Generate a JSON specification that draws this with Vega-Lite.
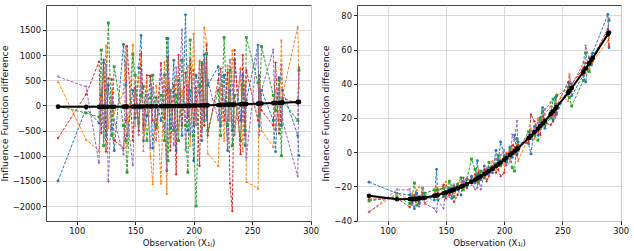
{
"$schema":"https://vega.github.io/schema/vega-lite/v6.json",
"padding":{"left":-2,"top":4,"right":0,"bottom":0},
"spacing":46,
"bounds":"flush",
"datasets":{
"L":[
{"x":84,"b":-1500,"o":470,"g":-20,"r":-650,"p":570,"k":-25.5},
{"x":108,"b":-60,"o":-680,"g":-150,"r":220,"p":370,"k":-27.5},
{"x":119,"b":-350,"o":-900,"g":-230,"r":870,"p":-1150,"k":-27.4},
{"x":121,"b":200,"o":150,"g":1100,"r":-550,"p":300,"k":-27.4},
{"x":123,"b":850,"o":-300,"g":-800,"r":910,"p":-650,"k":-27.3},
{"x":125,"b":-600,"o":1200,"g":300,"r":-920,"p":800,"k":-27.2},
{"x":127,"b":400,"o":-450,"g":1640,"r":540,"p":-1520,"k":-27.0},
{"x":130,"b":-450,"o":300,"g":-600,"r":520,"p":150,"k":-26.8},
{"x":132,"b":-900,"o":-150,"g":770,"r":-700,"p":-300,"k":-26.6},
{"x":140,"b":1210,"o":250,"g":-400,"r":-850,"p":-980,"k":-25.5},
{"x":142,"b":400,"o":1180,"g":-700,"r":-300,"p":850,"k":-25.2},
{"x":143,"b":-600,"o":-800,"g":-1330,"r":1180,"p":-200,"k":-25.0},
{"x":148,"b":300,"o":1210,"g":1020,"r":-700,"p":-1200,"k":-24.0},
{"x":150,"b":-250,"o":-400,"g":600,"r":350,"p":450,"k":-23.6},
{"x":153,"b":750,"o":550,"g":-350,"r":-500,"p":-600,"k":-22.9},
{"x":155,"b":1390,"o":900,"g":200,"r":1030,"p":650,"k":-22.4},
{"x":157,"b":-700,"o":-900,"g":380,"r":-400,"p":-500,"k":-21.9},
{"x":160,"b":-200,"o":500,"g":-700,"r":600,"p":200,"k":-21.1},
{"x":163,"b":580,"o":-1000,"g":150,"r":590,"p":-850,"k":-20.2},
{"x":165,"b":-850,"o":-1560,"g":600,"r":-300,"p":350,"k":-19.6},
{"x":168,"b":150,"o":400,"g":-400,"r":-450,"p":-700,"k":-18.6},
{"x":172,"b":-300,"o":-1550,"g":200,"r":840,"p":700,"k":-17.2},
{"x":175,"b":600,"o":870,"g":-700,"r":-250,"p":-400,"k":-16.1},
{"x":177,"b":-1300,"o":-1750,"g":1330,"r":300,"p":-1300,"k":-15.3},
{"x":178,"b":1330,"o":500,"g":-1100,"r":950,"p":600,"k":-14.9},
{"x":180,"b":-450,"o":-700,"g":300,"r":-900,"p":250,"k":-14.1},
{"x":183,"b":900,"o":350,"g":-500,"r":400,"p":-800,"k":-12.8},
{"x":185,"b":-900,"o":600,"g":200,"r":-1370,"p":750,"k":-11.9},
{"x":187,"b":500,"o":-500,"g":-700,"r":1000,"p":100,"k":-11.0},
{"x":190,"b":-600,"o":300,"g":900,"r":-400,"p":1500,"k":-9.6},
{"x":193,"b":1800,"o":-300,"g":-400,"r":650,"p":-900,"k":-8.1},
{"x":195,"b":-500,"o":800,"g":-1330,"r":-200,"p":400,"k":-7.1},
{"x":197,"b":300,"o":-800,"g":1300,"r":900,"p":-600,"k":-6.1},
{"x":200,"b":-1100,"o":1430,"g":-600,"r":-400,"p":700,"k":-4.5},
{"x":202,"b":600,"o":-300,"g":-2000,"r":350,"p":-400,"k":-3.4},
{"x":205,"b":250,"o":900,"g":400,"r":-1200,"p":860,"k":-1.7},
{"x":207,"b":-700,"o":-400,"g":850,"r":800,"p":-500,"k":-0.6},
{"x":209,"b":1010,"o":1560,"g":-300,"r":-400,"p":900,"k":0.6},
{"x":211,"b":-200,"o":1250,"g":1030,"r":1200,"p":-300,"k":1.8},
{"x":212,"b":400,"o":-950,"g":-500,"r":-600,"p":500,"k":2.4},
{"x":221,"b":770,"o":-1200,"g":300,"r":500,"p":-300,"k":8.2},
{"x":223,"b":-400,"o":400,"g":-600,"r":730,"p":600,"k":9.6},
{"x":226,"b":600,"o":-700,"g":1350,"r":-300,"p":100,"k":11.7},
{"x":229,"b":-900,"o":800,"g":-400,"r":650,"p":-700,"k":13.8},
{"x":231,"b":300,"o":-300,"g":700,"r":-1550,"p":900,"k":15.3},
{"x":233,"b":-500,"o":1100,"g":-800,"r":-2100,"p":400,"k":16.8},
{"x":235,"b":900,"o":-500,"g":200,"r":1100,"p":-600,"k":18.3},
{"x":240,"b":-300,"o":750,"g":-700,"r":-970,"p":700,"k":22.2},
{"x":242,"b":600,"o":-900,"g":400,"r":1000,"p":-300,"k":23.8},
{"x":244,"b":-800,"o":500,"g":-500,"r":-600,"p":400,"k":25.4},
{"x":245,"b":100,"o":-1520,"g":1350,"r":700,"p":-1050,"k":26.3},
{"x":255,"b":1200,"o":-1650,"g":450,"r":-300,"p":1180,"k":34.8},
{"x":256,"b":-400,"o":400,"g":-200,"r":600,"p":-600,"k":35.7},
{"x":258,"b":300,"o":-500,"g":1170,"r":-100,"p":300,"k":37.5},
{"x":268,"b":-300,"o":-820,"g":200,"r":-400,"p":1100,"k":46.9},
{"x":270,"b":-920,"o":300,"g":-100,"r":850,"p":-500,"k":48.9},
{"x":273,"b":550,"o":-400,"g":500,"r":-560,"p":300,"k":51.9},
{"x":275,"b":-400,"o":1300,"g":-1000,"r":50,"p":800,"k":53.9},
{"x":276,"b":300,"o":200,"g":100,"r":150,"p":-300,"k":55.0},
{"x":289,"b":-600,"o":1570,"g":-300,"r":30,"p":-1420,"k":68.8},
{"x":290,"b":-1000,"o":350,"g":700,"r":750,"p":750,"k":69.9}
],
"R":[
{"x":84,"b":-17.5,"o":-35,"g":-28.5,"r":-27.5,"p":-35,"k":-25.5},
{"x":108,"b":-24,"o":-24,"g":-26,"r":-27,"p":-22,"k":-27.5},
{"x":119,"b":-25,"o":-28,"g":-30,"r":-32,"p":-22,"k":-27.4},
{"x":121,"b":-29,"o":-24,"g":-26,"r":-30,"p":-31,"k":-27.4},
{"x":123,"b":-33,"o":-27,"g":-18,"r":-25,"p":-28,"k":-27.3},
{"x":125,"b":-24,"o":-22,"g":-31,"r":-28,"p":-25,"k":-27.2},
{"x":127,"b":-30,"o":-20,"g":-26,"r":-29,"p":-32,"k":-27.0},
{"x":130,"b":-21,"o":-21,"g":-27,"r":-24,"p":-25,"k":-26.8},
{"x":132,"b":-26,"o":-30,"g":-24,"r":-27,"p":-30,"k":-26.6},
{"x":140,"b":-28,"o":-24,"g":-22,"r":-26,"p":-33,"k":-25.5},
{"x":142,"b":-10,"o":-20,"g":-26,"r":-22,"p":-35,"k":-25.2},
{"x":143,"b":-28,"o":-27,"g":-22,"r":-24,"p":-28,"k":-25.0},
{"x":148,"b":-26,"o":-20,"g":-21,"r":-19,"p":-33,"k":-24.0},
{"x":150,"b":-25,"o":-17,"g":-25,"r":-27,"p":-20,"k":-23.6},
{"x":153,"b":-21,"o":-26,"g":-17,"r":-25,"p":-24,"k":-22.9},
{"x":155,"b":-27,"o":-19,"g":-23,"r":-21,"p":-26,"k":-22.4},
{"x":157,"b":-20,"o":-24,"g":-26,"r":-29,"p":-19,"k":-21.9},
{"x":160,"b":-22,"o":-18,"g":-19,"r":-25,"p":-22,"k":-21.1},
{"x":163,"b":-25,"o":-17,"g":-15,"r":-19,"p":-21,"k":-20.2},
{"x":165,"b":-17,"o":-21,"g":-22,"r":-15,"p":-18,"k":-19.6},
{"x":168,"b":-20,"o":-15,"g":-16,"r":-21,"p":-15,"k":-18.6},
{"x":172,"b":-14,"o":-19,"g":-4,"r":-15,"p":-17,"k":-17.2},
{"x":175,"b":-18,"o":-14,"g":-10,"r":-13,"p":-22,"k":-16.1},
{"x":177,"b":-5,"o":-17,"g":-13,"r":-17,"p":-21,"k":-15.3},
{"x":178,"b":-13,"o":-10,"g":-18,"r":-12,"p":-14,"k":-14.9},
{"x":180,"b":-16,"o":-13,"g":-11,"r":-15,"p":-22,"k":-14.1},
{"x":183,"b":-8,"o":-14,"g":-15,"r":-10,"p":-12,"k":-12.8},
{"x":185,"b":-13,"o":-9,"g":-12,"r":-17,"p":-10,"k":-11.9},
{"x":187,"b":-9,"o":-12,"g":-6,"r":-14,"p":-13,"k":-11.0},
{"x":190,"b":-12,"o":-5,"g":-10,"r":-8,"p":-11,"k":-9.6},
{"x":193,"b":1,"o":-10,"g":-7,"r":-12,"p":-4,"k":-8.1},
{"x":195,"b":-5,"o":-8,"g":-2,"r":-10,"p":-6,"k":-7.1},
{"x":197,"b":6,"o":-4,"g":-8,"r":-14,"p":-2,"k":-6.1},
{"x":200,"b":-2,"o":-7,"g":-3,"r":-12,"p":1,"k":-4.5},
{"x":202,"b":-6,"o":0,"g":-5,"r":-1,"p":-8,"k":-3.4},
{"x":205,"b":3,"o":-4,"g":2,"r":0,"p":-6,"k":-1.7},
{"x":207,"b":-3,"o":2,"g":-9,"r":4,"p":10,"k":-0.6},
{"x":209,"b":10,"o":-1,"g":-11,"r":3,"p":7,"k":0.6},
{"x":211,"b":-1,"o":5,"g":8,"r":-2,"p":18,"k":1.8},
{"x":212,"b":6,"o":-5,"g":1,"r":4,"p":3,"k":2.4},
{"x":221,"b":5,"o":9,"g":12,"r":6,"p":10,"k":8.2},
{"x":223,"b":-1,"o":14,"g":8,"r":22,"p":12,"k":9.6},
{"x":226,"b":15,"o":8,"g":10,"r":18,"p":14,"k":11.7},
{"x":229,"b":10,"o":20,"g":7,"r":12,"p":17,"k":13.8},
{"x":231,"b":20,"o":14,"g":19,"r":10,"p":13,"k":15.3},
{"x":233,"b":26,"o":17,"g":24,"r":21,"p":15,"k":16.8},
{"x":235,"b":14,"o":22,"g":16,"r":17,"p":25,"k":18.3},
{"x":240,"b":24,"o":27,"g":20,"r":16,"p":29,"k":22.2},
{"x":242,"b":19,"o":21,"g":31,"r":18,"p":22,"k":23.8},
{"x":244,"b":32,"o":24,"g":28,"r":23,"p":20,"k":25.4},
{"x":245,"b":22,"o":34,"g":33,"r":27,"p":28,"k":26.3},
{"x":255,"b":38,"o":30,"g":37,"r":41,"p":33,"k":34.8},
{"x":256,"b":40,"o":46,"g":32,"r":38,"p":44,"k":35.7},
{"x":258,"b":33,"o":36,"g":27,"r":40,"p":39,"k":37.5},
{"x":268,"b":45,"o":50,"g":42,"r":49,"p":52,"k":46.9},
{"x":270,"b":41,"o":46,"g":58,"r":52,"p":62,"k":48.9},
{"x":273,"b":55,"o":49,"g":47,"r":53,"p":55,"k":51.9},
{"x":275,"b":51,"o":56,"g":54,"r":52,"p":57,"k":53.9},
{"x":276,"b":58,"o":53,"g":56,"r":55,"p":54,"k":55.0},
{"x":289,"b":80.5,"o":65,"g":70,"r":72,"p":70,"k":68.8},
{"x":290,"b":61,"o":67,"g":77,"r":62,"p":78,"k":69.9}
]
},
"hconcat":[
{
"width":265,"height":216,
"data":{"name":"L"},
"encoding":{
"x":{"field":"x","type":"quantitative","title":"Observation (X₁ⱼ)","scale":{"domain":[73.7,300.3],"nice":false,"zero":false},"axis":{"values":[100,150,200,250,300],"format":"d","tickCount":20}}
},
"layer":[
{"transform":[{"fold":["b","o","g","r","p"],"as":["s","v"]}],
"mark":{"type":"line","strokeDash":[3,1.5],"strokeWidth":1},
"encoding":{
"y":{"field":"v","type":"quantitative","title":"Influence Function difference","scale":{"domain":[-2298,1996],"nice":false,"zero":false},"axis":{"values":[-2000,-1500,-1000,-500,0,500,1000,1500],"format":"d","tickCount":20}},
"color":{"field":"s","type":"nominal","scale":{"domain":["b","o","g","r","p"],"range":["#1f77b4","#ff7f0e","#2ca02c","#d62728","#9467bd"]},"legend":null}}},
{"transform":[{"fold":["b","o","g","r","p"],"as":["s","v"]}],
"mark":{"type":"point","filled":true,"size":8,"opacity":1},
"encoding":{
"y":{"field":"v","type":"quantitative","title":"Influence Function difference"},
"color":{"field":"s","type":"nominal","legend":null},
"shape":{"field":"s","type":"nominal","scale":{"domain":["b","o","g","r","p"],"range":["circle","triangle-up","square","diamond","triangle-down"]},"legend":null}}},
{"mark":{"type":"line","color":"#000","strokeWidth":2},
"encoding":{"y":{"field":"k","type":"quantitative","title":"Influence Function difference"}}},
{"mark":{"type":"circle","color":"#000","size":22,"opacity":1},
"encoding":{"y":{"field":"k","type":"quantitative","title":"Influence Function difference"}}}
]
},
{
"width":264,"height":216,
"data":{"name":"R"},
"encoding":{
"x":{"field":"x","type":"quantitative","title":"Observation (X₁ⱼ)","scale":{"domain":[73.7,300.3],"nice":false,"zero":false},"axis":{"values":[100,150,200,250,300],"format":"d","tickCount":20}}
},
"layer":[
{"transform":[{"fold":["b","o","g","r","p"],"as":["s","v"]}],
"mark":{"type":"line","strokeDash":[3,1.5],"strokeWidth":1},
"encoding":{
"y":{"field":"v","type":"quantitative","title":"Influence Function difference","scale":{"domain":[-40.2,86],"nice":false,"zero":false},"axis":{"values":[-40,-20,0,20,40,60,80],"format":"d","tickCount":20}},
"color":{"field":"s","type":"nominal","scale":{"domain":["b","o","g","r","p"],"range":["#1f77b4","#ff7f0e","#2ca02c","#d62728","#9467bd"]},"legend":null}}},
{"transform":[{"fold":["b","o","g","r","p"],"as":["s","v"]}],
"mark":{"type":"point","filled":true,"size":8,"opacity":1},
"encoding":{
"y":{"field":"v","type":"quantitative","title":"Influence Function difference"},
"color":{"field":"s","type":"nominal","legend":null},
"shape":{"field":"s","type":"nominal","scale":{"domain":["b","o","g","r","p"],"range":["circle","triangle-up","square","diamond","triangle-down"]},"legend":null}}},
{"mark":{"type":"line","color":"#000","strokeWidth":2},
"encoding":{"y":{"field":"k","type":"quantitative","title":"Influence Function difference"}}},
{"mark":{"type":"circle","color":"#000","size":22,"opacity":1},
"encoding":{"y":{"field":"k","type":"quantitative","title":"Influence Function difference"}}}
]
}
],
"config":{
"font":"DejaVu Sans",
"view":{"stroke":"#444","strokeWidth":1},
"axis":{"labelFont":"DejaVu Sans","titleFont":"DejaVu Sans","labelFontSize":8.4,"titleFontSize":8.6,"titleFontWeight":"normal","labelColor":"#111","titleColor":"#111","tickColor":"#222","tickSize":3.5,"labelPadding":2,"titlePadding":4,"domain":false,"gridColor":"#d6d6d6","gridWidth":0.9,"labelOverlap":false,"labelFlush":false,"tickCount":20},
"axisY":{"titleFontSize":9.4,"titlePadding":3}
}
}
